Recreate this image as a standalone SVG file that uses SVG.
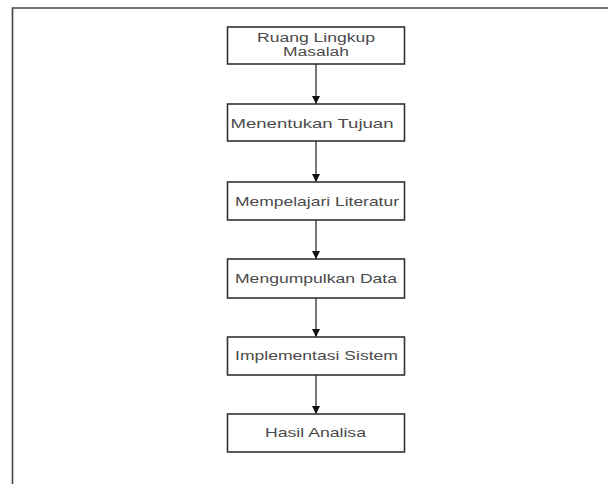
<svg xmlns="http://www.w3.org/2000/svg" width="608" height="484" viewBox="0 0 608 484">
<defs>
<marker id="ah" viewBox="0 0 10 10" refX="10" refY="5" markerWidth="8" markerHeight="8" markerUnits="userSpaceOnUse" orient="auto">
<path d="M0,0 L10,5 L0,10 Z" fill="#111"/>
</marker>
<style>
.box{fill:#fff;stroke:#333;stroke-width:1.6}
.t{font-family:"Liberation Sans",Arial,sans-serif;font-size:13px;fill:#4a4a4a;text-anchor:middle}
.s{font-size:12px}
.c{stroke:#555;stroke-width:1.6;fill:none}
.frame{stroke:#444;stroke-width:1.6;fill:none}
</style>
</defs>
<rect width="608" height="484" fill="#fff"/>
<path class="frame" d="M12.5,484 V8 H608"/>
<g id="connectors">
<line class="c" x1="316" y1="64" x2="316" y2="104" marker-end="url(#ah)"/>
<line class="c" x1="316" y1="141" x2="316" y2="182" marker-end="url(#ah)"/>
<line class="c" x1="316" y1="220" x2="316" y2="259" marker-end="url(#ah)"/>
<line class="c" x1="316" y1="298" x2="316" y2="337" marker-end="url(#ah)"/>
<line class="c" x1="316" y1="375" x2="316" y2="414" marker-end="url(#ah)"/>
</g>
<g id="n1">
<rect class="box" x="227.5" y="27" width="177" height="37"/>
<text class="t s" x="316" y="42" textLength="118" lengthAdjust="spacingAndGlyphs">Ruang Lingkup</text>
<text class="t s" x="316" y="56" textLength="66" lengthAdjust="spacingAndGlyphs">Masalah</text>
</g>
<g id="n2">
<rect class="box" x="227.5" y="104" width="177" height="37"/>
<text class="t" x="312" y="128" textLength="163" lengthAdjust="spacingAndGlyphs">Menentukan Tujuan</text>
</g>
<g id="n3">
<rect class="box" x="227.5" y="182" width="177" height="38"/>
<text class="t" x="317" y="206" textLength="164" lengthAdjust="spacingAndGlyphs">Mempelajari Literatur</text>
</g>
<g id="n4">
<rect class="box" x="227.5" y="259" width="177" height="39"/>
<text class="t" x="316" y="283" textLength="162" lengthAdjust="spacingAndGlyphs">Mengumpulkan Data</text>
</g>
<g id="n5">
<rect class="box" x="227.5" y="337" width="177" height="38"/>
<text class="t" x="316.5" y="360" textLength="163" lengthAdjust="spacingAndGlyphs">Implementasi Sistem</text>
</g>
<g id="n6">
<rect class="box" x="227.5" y="414" width="177" height="38"/>
<text class="t" x="315.5" y="437" textLength="101" lengthAdjust="spacingAndGlyphs">Hasil Analisa</text>
</g>
</svg>
